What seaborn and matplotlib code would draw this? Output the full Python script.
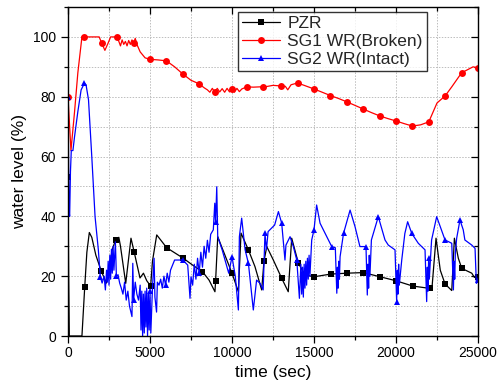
import numpy as np
import pandas as pd
import seaborn as sns
import matplotlib
matplotlib.use("Agg")
import matplotlib.pyplot as plt
from matplotlib.ticker import MultipleLocator

# ---------------- data ----------------
pzr_t = [0, 40, 80, 500, 850, 1020, 1150, 1300, 1450, 1700, 2030, 2340, 2500, 2700,
         2900, 3100, 3200, 3520, 3840, 4030, 4390, 4600, 4800, 5040, 5150, 5410, 6020,
         7030, 7600, 8200, 8600, 8960, 9000, 9130, 9500, 10000, 10390, 10550, 11000,
         11400, 11810, 11950, 12120, 12520, 13030, 13430, 13640, 14050, 14450, 15000,
         16020, 17000, 18010, 19030, 19980, 21020, 22080, 22200, 22440, 22700, 22990,
         23400, 23560, 23800, 24010, 24620, 24780, 25000]
pzr_v = [53, 20, 0, 0, 0, 16.4, 28, 34.6, 33, 27, 21.7, 17.7, 22, 29,
         32, 33, 30, 17.6, 32.7, 28.2, 19.4, 21, 18.5, 16.7, 25, 33.8, 29.5,
         26, 23.7, 21.5, 18.7, 14.8, 18.4, 33.2, 28, 21, 14.8, 34.4, 28.8,
         23.2, 15.4, 25, 29.9, 25.4, 19.3, 14.8, 32.7, 24.3, 20.4, 19.8,
         20.7, 21, 21.2, 19.8, 18.5, 16.7, 15.9, 16.5, 32.7, 22, 17.4,
         15.2, 32.7, 26, 22.6, 21, 19.6, 19.8]

sg1_t = [0, 100, 180, 400, 600, 850, 1000, 1500, 1900, 2050, 2250, 2450, 2600, 2900,
         3000, 3100, 3200, 3300, 3400, 3500, 3600, 3700, 3800, 3900, 4000, 4100, 4200,
         4400, 4700, 5000, 5500, 6000, 6500, 7000, 7500, 8000, 8300, 8500, 8650, 8800,
         8950, 9100, 9250, 9400, 9550, 9700, 9850, 10000, 10150, 10300, 10450, 10600,
         10900, 11300, 11700, 11900, 12500, 13000, 13250, 13400, 13600, 14000, 14500,
         15000, 15500, 16000, 16500, 17000, 17500, 18000, 18500, 19000, 19500, 20000,
         20500, 21000, 21500, 22000, 22500, 23000, 23400, 24000, 24700, 25000]
sg1_v = [80, 70, 62, 75, 88, 100, 100, 100, 100, 98, 95.5, 98, 100, 100,
         100, 98.5, 97, 99, 97.5, 98.5, 97, 98.8, 97.5, 99, 98, 99.5, 97.5,
         95, 93, 92.5, 92.3, 92, 90, 87.6, 85.5, 84.3, 83, 82.3, 81.5, 82.8,
         81.5, 82.8, 81.6, 82.7, 81.5, 82.8, 81.6, 82.7, 81.5, 82.8, 81.7, 82.6,
         83.3, 83.2, 83.3, 83.2, 83.8, 83.6, 83.5, 82.3, 84, 84.6, 83.6,
         82.6, 81.5, 80.4, 79.4, 78.3, 77.1, 75.9, 74.7, 73.6, 72.7, 71.9,
         71, 70.2, 70.6, 71.6, 77.9, 80.3, 83.3, 88, 90, 89.6]

sg2_t = [0, 30, 60, 100, 150, 200, 300, 400, 600, 800, 1000, 1100, 1250, 1450, 1650,
         1850, 1970, 2080, 2200, 2280, 2350, 2400, 2450, 2500, 2550, 2600, 2650, 2700,
         2750, 2800, 2890, 2950, 3050, 3150, 3250, 3350, 3450, 3550, 3650, 3750, 3900,
         3950, 4000, 4100, 4200, 4300, 4400, 4450, 4500, 4550, 4600, 4650, 4700, 4750,
         4800, 4850, 4900, 4950, 5000, 5050, 5150, 5250, 5300, 5400, 5450, 5550, 5650,
         5750, 5850, 5950, 6050, 6150, 6250, 6400, 6500, 6800, 7000, 7300, 7440, 7500,
         7600, 7700, 7800, 7900, 8000, 8100, 8200, 8300, 8400, 8500, 8600, 8700, 8860,
         8950, 9000, 9070, 9130, 9400, 9800, 10000, 10200, 10390, 10450, 10590, 10800,
         11000, 11300, 11500, 11710, 11900, 12010, 12100, 12200, 12400, 12600, 12830,
         13030, 13230, 13290, 13540, 13740, 13950, 14110, 14200, 14250, 14300, 14350,
         14400, 14450, 14500, 14550, 14600, 14650, 14700, 14750, 14860, 15000, 15160,
         15370, 15780, 16080, 16300, 16390, 16430, 16470, 16510, 16550, 16590, 16800,
         17200, 17500, 17800, 18170, 18250, 18290, 18330, 18370, 18410, 18500, 18920,
         19330, 19530, 19940, 20040, 20080, 20120, 20160, 20200, 20350, 20540, 20710,
         20960, 21360, 21770, 21870, 21910, 21950, 21990, 22030, 22170, 22480, 22990,
         23400, 23500, 23540, 23580, 23620, 23700, 23900, 24100, 24200, 24620, 24820,
         24900, 25000]
sg2_v = [80, 60, 42, 40, 55, 62, 62, 66.7, 75, 82.3, 84.5, 84, 79, 60, 39.9,
         28.8, 19.8, 17.7, 20, 15.4, 22, 18, 25, 17, 27, 19, 29, 21,
         30, 22, 31.5, 20, 20.5, 17.7, 16, 14, 18, 12, 15, 10, 6.5,
         24.3, 12, 18, 14, 12, 17, 2, 15, 0, 14, 1, 15, 3,
         16, 0, 14, 2, 15, 1, 16, 26, 13, 8, 18, 17, 19,
         16, 20, 17, 21, 18, 22, 24, 25.4, 25.4, 25.4, 23.7, 12.6, 19.8,
         17, 24, 19, 26, 21, 28, 23, 30, 26, 32, 28, 34, 35.5,
         44.4, 38, 49.9, 33.2, 28.8, 21, 26.5, 20, 8.7, 33.2, 39.4, 28.8,
         24.3, 8.7, 18.7, 17.6, 15.4, 34.3, 28.8, 34.9, 36, 37.1, 41.6,
         37.7, 25.4, 30.4, 33.2, 29.9, 25.4, 12.6, 24, 14, 23, 13,
         24, 16, 25, 17, 26, 19, 27, 20, 32.1, 35.5, 43.8,
         37.7, 33.2, 29.9, 29.5, 14.3, 23, 16, 25, 19, 26.5, 34.3,
         42.1, 36.6, 29.9, 29.9, 13.7, 24, 16, 27, 20, 32.1, 39.9,
         32.1, 30.4, 28.8, 11.5, 22, 14, 24, 17, 25.4, 34.3, 38.2,
         34.3, 31, 28.8, 11.5, 23, 15, 26, 19, 32.1, 39.9, 32.1,
         31, 15.4, 25, 19, 28, 32.7, 38.8, 35.5, 32.1, 30.4, 29.3,
         17.6, 18.7]

labels = ["PZR", "SG1 WR(Broken)", "SG2 WR(Intact)"]
colors = ["black", "red", "blue"]
markers = ["s", "o", "^"]
msizes = [4.6, 5.0, 4.6]

# ---------------- figure ----------------
sns.set_theme(style="white")
plt.rcParams["font.family"] = ["Liberation Sans", "DejaVu Sans"]

fig = plt.figure(figsize=(5.02, 3.92), dpi=100)
ax = fig.add_axes([68 / 502, 1 - 336 / 392, 410 / 502, 329 / 392])

series = [(pzr_t, pzr_v), (sg1_t, sg1_v), (sg2_t, sg2_v)]
for (t, v), lab, col, mk, ms in zip(series, labels, colors, markers, msizes):
    t = np.asarray(t, float)
    v = np.asarray(v, float)
    idx = sorted(set(int(np.argmin(np.abs(t - k))) for k in range(0, 25001, 1000)))
    df = pd.DataFrame({"time": t, "level": v})
    sns.lineplot(data=df, x="time", y="level", ax=ax, color=col, lw=0.9,
                 marker=mk, markersize=ms, markeredgewidth=0, markevery=idx,
                 sort=False, estimator=None, label=lab)

ax.set_xlim(0, 25000)
ax.set_ylim(0, 110)
ax.xaxis.set_major_locator(MultipleLocator(5000))
ax.xaxis.set_minor_locator(MultipleLocator(2500))
ax.yaxis.set_major_locator(MultipleLocator(20))
ax.yaxis.set_minor_locator(MultipleLocator(10))

ax.grid(True, which="both", color="#bdbdbd", linestyle=(0, (1.5, 1.5)), linewidth=0.7)
ax.set_axisbelow(True)

for s in ax.spines.values():
    s.set_color("black")
    s.set_linewidth(1.0)

ax.tick_params(which="both", direction="out", color="black", labelsize=10,
               labelcolor="black", bottom=True, left=True, top=True, right=True,
               labeltop=False, labelright=False)
ax.tick_params(which="major", length=5, width=0.9)
ax.tick_params(which="minor", length=3, width=0.9)
ax.tick_params(axis="x", pad=2)

# mirrored ticks on top and right point inward
for tk in ax.xaxis.get_ticklines(minor=False)[1::2] + ax.xaxis.get_ticklines(minor=True)[1::2]:
    tk.set_marker(3)
for tk in ax.yaxis.get_ticklines(minor=False)[1::2] + ax.yaxis.get_ticklines(minor=True)[1::2]:
    tk.set_marker(0)

ax.set_xlabel("time (sec)", fontsize=12.5, color="black", labelpad=4)
ax.set_ylabel("water level (%)", fontsize=12.5, color="black", labelpad=4)

leg = ax.legend(loc="upper right", bbox_to_anchor=((427 - 68) / 410, (336 - 12) / 329),
                fontsize=12.5, frameon=True, fancybox=False, borderpad=0.25,
                labelspacing=0.15, handlelength=2.2, handletextpad=0.4, borderaxespad=0)
leg.get_frame().set_edgecolor("black")
leg.get_frame().set_linewidth(1.0)

fig.savefig("out.png", dpi=100)
